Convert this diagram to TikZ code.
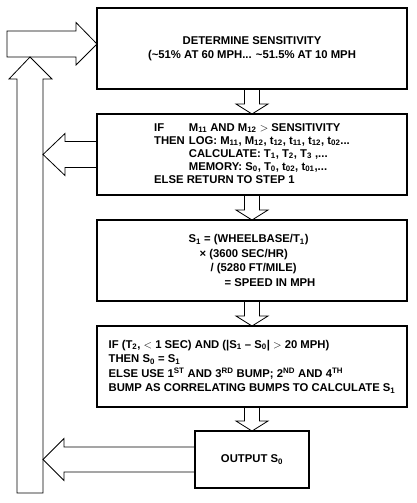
\documentclass[tikz,border=0pt]{standalone}
\usepackage{fontspec}
\setmainfont{Liberation Sans}
\usepackage{tikz}
\usetikzlibrary{positioning}
\tikzstyle{stepbox} = [rectangle, draw, line width=1.4pt, minimum width=310pt, minimum height=81pt, outer sep=0pt, inner sep=0pt, font=\fontsize{11.3}{14.5}\selectfont\bfseries]
\tikzstyle{hollow} = [draw, line width=0.8pt, line join=miter]

\begin{document}
\begin{tikzpicture}[x=1pt, y=-1pt]
    \useasboundingbox (0,0) rectangle (416,503);

    \node (det) [stepbox, align=center] at (252,48.5) {DETERMINE SENSITIVITY\\(\textasciitilde51\% AT 60 MPH... \textasciitilde51.5\% AT 10 MPH};
    \node (cond) [stepbox, below=25pt of det, font=\fontsize{11.3}{13}\selectfont\bfseries] {%
        \begin{tabular}{@{}l@{\hspace{4pt}}l@{}}
        IF & M\textsubscript{11} AND M\textsubscript{12} $>$ SENSITIVITY\\
        THEN & LOG: M\textsubscript{11}, M\textsubscript{12}, t\textsubscript{12}, t\textsubscript{11}, t\textsubscript{12}, t\textsubscript{02}...\\
         & CALCULATE: T\textsubscript{1}, T\textsubscript{2}, T\textsubscript{3} ,...\\
         & MEMORY: S\textsubscript{0}, T\textsubscript{0}, t\textsubscript{02}, t\textsubscript{01},...\\
        \multicolumn{2}{@{}l@{}}{ELSE RETURN TO STEP 1}
        \end{tabular}};
    \node (speed) [stepbox, below=25pt of cond, align=left] {S\textsubscript{1} = (WHEELBASE/T\textsubscript{1})\\\hspace*{11pt}× (3600 SEC/HR)\\\hspace*{22pt}/ (5280 FT/MILE)\\\hspace*{36pt}= SPEED IN MPH};
    \node (check) [stepbox, below=25pt of speed, align=left] {IF (T\textsubscript{2}, $<$ 1 SEC) AND (|S\textsubscript{1} – S\textsubscript{0}| $>$ 20 MPH)\\THEN S\textsubscript{0} = S\textsubscript{1}\\ELSE USE 1\textsuperscript{ST} AND 3\textsuperscript{RD} BUMP; 2\textsuperscript{ND} AND 4\textsuperscript{TH}\\BUMP AS CORRELATING BUMPS TO CALCULATE S\textsubscript{1}};
    \node (out) [stepbox, below=24pt of check, minimum width=114pt, minimum height=57pt] {OUTPUT S\textsubscript{0}};

    \coordinate (turn) at (30,44);
    \coordinate (base) at (30,493);
    \coordinate (rail) at ([xshift=13pt]base);

    % hollow arrows down the chain
    \draw [hollow] ([xshift=-7.5pt]det.south) -- ([xshift=-7.5pt,yshift=10pt]cond.north) -- ([xshift=-16pt,yshift=10pt]cond.north) -- (cond.north) -- ([xshift=16pt,yshift=10pt]cond.north) -- ([xshift=7.5pt,yshift=10pt]cond.north) -- ([xshift=7.5pt]det.south);
    \draw [hollow] ([xshift=-7.5pt]cond.south) -- ([xshift=-7.5pt,yshift=10pt]speed.north) -- ([xshift=-16pt,yshift=10pt]speed.north) -- (speed.north) -- ([xshift=16pt,yshift=10pt]speed.north) -- ([xshift=7.5pt,yshift=10pt]speed.north) -- ([xshift=7.5pt]cond.south);
    \draw [hollow] ([xshift=-7.5pt]speed.south) -- ([xshift=-7.5pt,yshift=10pt]check.north) -- ([xshift=-16pt,yshift=10pt]check.north) -- (check.north) -- ([xshift=16pt,yshift=10pt]check.north) -- ([xshift=7.5pt,yshift=10pt]check.north) -- ([xshift=7.5pt]speed.south);
    \draw [hollow] ([xshift=-7.5pt]check.south) -- ([xshift=-7.5pt,yshift=10pt]out.north) -- ([xshift=-16pt,yshift=10pt]out.north) -- (out.north) -- ([xshift=16pt,yshift=10pt]out.north) -- ([xshift=7.5pt,yshift=10pt]out.north) -- ([xshift=7.5pt]check.south);

    % hollow arrows back to the rail
    \draw [hollow] ([yshift=13pt]cond.west) -- ([xshift=22pt,yshift=13pt]rail |- cond.west) -- ([xshift=22pt,yshift=21pt]rail |- cond.west) -- (rail |- cond.west) -- ([xshift=22pt,yshift=-21pt]rail |- cond.west) -- ([xshift=22pt,yshift=-13pt]rail |- cond.west) -- ([yshift=-13pt]cond.west);
    \draw [hollow] ([yshift=12.5pt]out.west) -- ([xshift=21pt,yshift=12.5pt]rail |- out.west) -- ([xshift=21pt,yshift=21pt]rail |- out.west) -- (rail |- out.west) -- ([xshift=21pt,yshift=-21pt]rail |- out.west) -- ([xshift=21pt,yshift=-12.5pt]rail |- out.west) -- ([yshift=-12.5pt]out.west);

    % rail up and into step 1
    \draw [hollow] ([xshift=-13pt]base) -- ([xshift=-13pt,yshift=-35pt]turn) -- ([xshift=-21pt,yshift=-35pt]turn) -- ([yshift=-13pt]turn) -- ([xshift=22pt,yshift=-35pt]turn) -- ([xshift=13pt,yshift=-35pt]turn) -- (rail) -- cycle;
    \draw [hollow] ([xshift=-23pt,yshift=13pt]turn) -- ([xshift=-21pt,yshift=17.5pt]det.west) -- ([xshift=-21pt,yshift=26pt]det.west) -- ([yshift=4.5pt]det.west) -- ([xshift=-21pt,yshift=-16.5pt]det.west) -- ([xshift=-21pt,yshift=-8.5pt]det.west) -- ([xshift=-23pt,yshift=-13pt]turn) -- cycle;

\end{tikzpicture}
\end{document}
